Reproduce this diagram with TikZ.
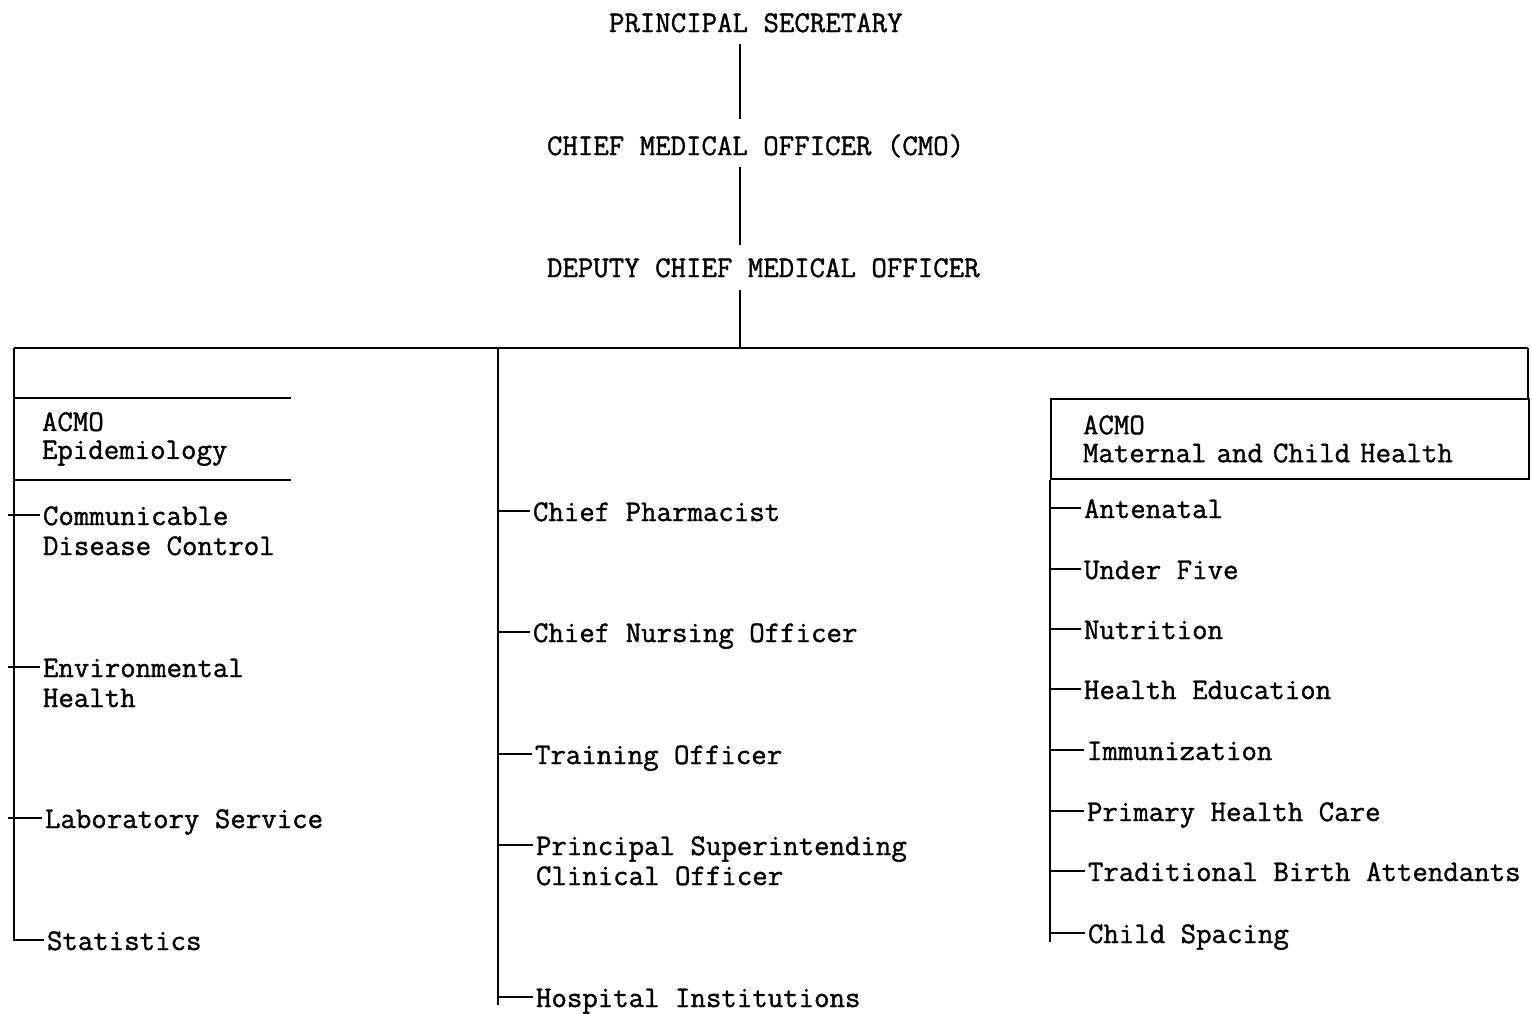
\documentclass[tikz,border=0pt]{standalone}
\usepackage{fontspec}
\setmainfont{Latin Modern Mono}[FakeBold=1.2]
\usetikzlibrary{calc}

\begin{document}
\begin{tikzpicture}[
  x=0.5pt, y=-0.5pt,
  line width=1pt,
  post/.style={font=\fontsize{15}{15}\selectfont, inner sep=0pt, anchor=base west},
  item/.style={font=\fontsize{15}{15}\selectfont, inner sep=0pt, anchor=base west, align=left},
  headbox/.style={font=\fontsize{15}{14}\selectfont, anchor=north west, align=left, inner ysep=0pt, minimum height=40pt}
]
  \useasboundingbox (0,0) rectangle (1532,1013);

  % top of the chart
  \node (ps) [post] at (608,32) {PRINCIPAL SECRETARY};
  \node (cmo) [post] at (546,155) {CHIEF MEDICAL OFFICER (CMO)};
  \node (dcmo) [post] at (546,277) {DEPUTY CHIEF MEDICAL OFFICER};

  \coordinate (bar) at (740,348);
  \coordinate (barL) at (14,348);
  \coordinate (barM) at (498,348);
  \coordinate (barR) at (1528,348);
  \coordinate (tickL) at (8,348);

  \draw ([yshift=-6pt]ps.base -| bar) -- ([yshift=18pt]cmo.base -| bar);
  \draw ([yshift=-6pt]cmo.base -| bar) -- ([yshift=16pt]dcmo.base -| bar);
  \draw ([yshift=-6.5pt]dcmo.base -| bar) -- (bar);
  \draw (barL) -- (barR);

  % left branch
  \node (epi) [headbox, inner xsep=13.5pt, text width=110.5pt] at (14,398) {ACMO\\Epidemiology};
  \draw (epi.north west) -- (epi.north east);
  \draw (epi.south west) -- (epi.south east);

  \node (cd) [item] at (42,555) {Communicable\\Disease Control};
  \node (eh) [item] at (42,707) {Environmental\\Health};
  \node (ls) [item] at (44,828) {Laboratory Service};
  \node (st) [item] at (46,950) {Statistics};

  % middle branch
  \node (cp) [item] at (532,521) {Chief Pharmacist};
  \node (cn) [item] at (532,642) {Chief Nursing Officer};
  \node (to) [item] at (534,764) {Training Officer};
  \node (psco) [item] at (535,885) {Principal Superintending\\Clinical Officer};
  \node (hi) [item] at (535,1007) {Hospital Institutions};
  \coordinate (midEnd) at (498,1005);

  % right branch
  \node (mch) [headbox, draw, inner xsep=16pt, text width=207pt] at (1050,398) {ACMO\\Maternal and Child Health};

  \node (an) [item] at (1083,518) {Antenatal};
  \node (uf) [item] at (1083,579) {Under Five};
  \node (nu) [item] at (1083,639) {Nutrition};
  \node (he) [item] at (1083,699) {Health Education};
  \node (im) [item] at (1086,760) {Immunization};
  \node (phc) [item] at (1086,821) {Primary Health Care};
  \node (tba) [item] at (1087,881) {Traditional Birth Attendants};
  \node (cs) [item] at (1087,943) {Child Spacing};
  \coordinate (rightEnd) at (1050,942);

  % tick points: first line of each entry
  \foreach \n in {ls,st,cp,cn,to,hi,an,uf,nu,he,im,phc,tba,cs}
    \coordinate (\n-t) at ([xshift=-1pt,yshift=5pt]\n.base west);
  \foreach \n in {cd,eh,psco}
    \coordinate (\n-t) at ([xshift=-1pt,yshift=20pt]\n.base west);

  % trunks and ticks
  \draw (barL) -- (barL |- st-t) -- (st-t);
  \foreach \n in {cd,eh,ls}
    \draw (tickL |- \n-t) -- (\n-t);

  \draw (barM) -- (midEnd);
  \foreach \n in {cp,cn,to,psco,hi}
    \draw (barM |- \n-t) -- (\n-t);

  \draw (barR) -- (barR |- mch.north);
  \draw (mch.south west) -- (rightEnd);
  \foreach \n in {an,uf,nu,he,im,phc,tba,cs}
    \draw (mch.south west |- \n-t) -- (\n-t);
\end{tikzpicture}
\end{document}
